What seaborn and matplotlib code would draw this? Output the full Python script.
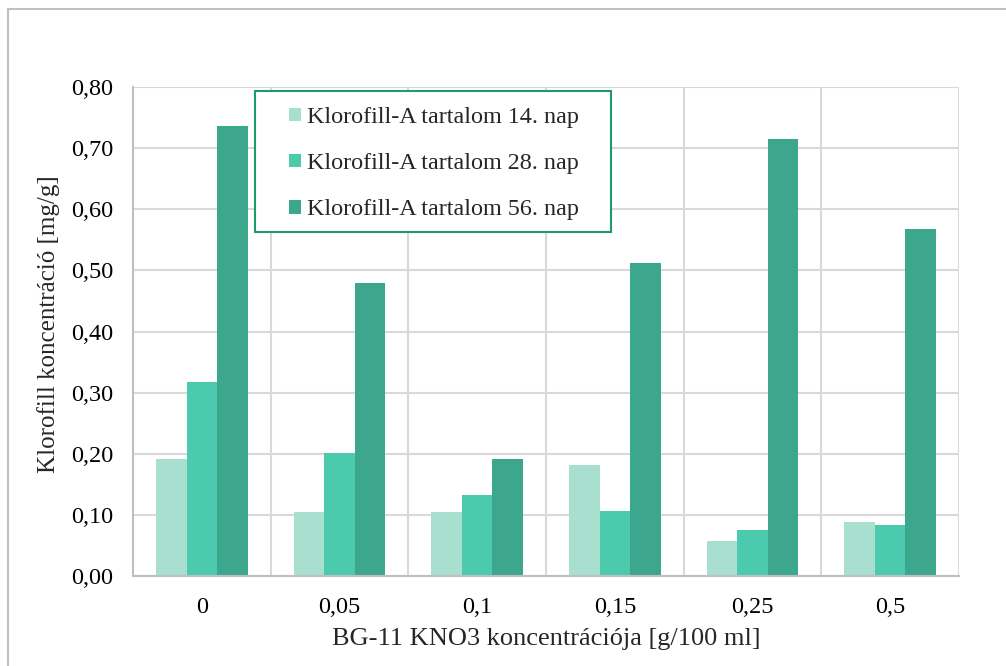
import matplotlib
matplotlib.use("Agg")
import matplotlib.pyplot as plt
import matplotlib.ticker as mticker
from matplotlib.lines import Line2D
from matplotlib.patches import Rectangle
import seaborn as sns
import pandas as pd

# KNO3 concentrations in BG-11 medium [g/100 ml]
concentrations = ["0", "0,05", "0,1", "0,15", "0,25", "0,5"]
series_names = [
    "Klorofill-A tartalom 14. nap",
    "Klorofill-A tartalom 28. nap",
    "Klorofill-A tartalom 56. nap",
]
day14 = [0.191, 0.105, 0.105, 0.181, 0.058, 0.088]
day28 = [0.317, 0.202, 0.132, 0.106, 0.075, 0.084]
day56 = [0.737, 0.479, 0.191, 0.512, 0.715, 0.567]
colors = ["#A8DFCE", "#4CCAAE", "#3DA78D"]

rows = []
for name, vals in zip(series_names, [day14, day28, day56]):
    for c, v in zip(concentrations, vals):
        rows.append({"conc": c, "series": name, "value": v})
df = pd.DataFrame(rows)

sns.set_theme(style="white")
plt.rcParams["font.family"] = ["Liberation Serif", "DejaVu Serif"]

W, H = 1006, 666
fig = plt.figure(figsize=(W / 100, H / 100), dpi=100)
ax = fig.add_axes([133 / W, 90 / H, (959 - 133) / W, (576 - 87) / H])

sns.barplot(
    data=df, x="conc", y="value", hue="series", order=concentrations,
    hue_order=series_names, palette=colors, width=0.667, gap=0,
    saturation=1, ax=ax, legend=True, edgecolor="none", linewidth=0,
)

ax.set_ylim(0, 0.8)
ax.set_xlim(-0.5, len(concentrations) - 0.5)
ax.yaxis.set_major_locator(mticker.MultipleLocator(0.1))
ax.yaxis.set_major_formatter(
    mticker.FuncFormatter(lambda v, _: f"{v:.2f}".replace(".", ","))
)
ax.tick_params(axis="both", labelsize=17.5, length=0, colors="black")
ax.tick_params(axis="y", pad=14)
ax.tick_params(axis="x", pad=15)

# Category boundaries as vertical gridlines
ax.set_xticks([i + 0.5 for i in range(-1, len(concentrations))], minor=True)
ax.tick_params(axis="x", which="minor", length=0)
ax.grid(True, axis="y", color="#D9D9D9", linewidth=1.5)
ax.grid(True, axis="x", which="minor", color="#D9D9D9", linewidth=1.5)
ax.grid(False, axis="x", which="major")
ax.set_axisbelow(True)
for side in ["top", "right"]:
    ax.spines[side].set_visible(False)
for side in ["left", "bottom"]:
    ax.spines[side].set_color("#BFBFBF")
    ax.spines[side].set_linewidth(1.5)

ax.set_xlabel("BG-11 KNO3 koncentrációja [g/100 ml]", fontsize=19, labelpad=7)
ax.set_ylabel("Klorofill koncentráció [mg/g]", fontsize=18)
ax.yaxis.set_label_coords(-0.088, 0.515)

# Legend entries, with a separate boxed frame behind them
leg = ax.legend(
    loc="upper left", bbox_to_anchor=(289 / W, 1 - 107 / H),
    bbox_transform=fig.transFigure, fontsize=17.4, frameon=False,
    handlelength=0.5, handleheight=0.5, handletextpad=0.25,
    labelspacing=1.04, borderpad=0, borderaxespad=0,
)
leg.set_zorder(6)
box = Rectangle((255 / W, 1 - 232 / H), (611 - 255) / W, (232 - 91) / H,
                transform=fig.transFigure, facecolor="white",
                edgecolor="#1F9A6C", linewidth=1.5, zorder=5, clip_on=False)
ax.add_patch(box)

# Outer chart border (left and top edges visible)
fig.add_artist(Line2D([8 / W, 8 / W], [0, 1 - 9 / H], color="#BFBFBF", lw=1.5,
                      transform=fig.transFigure))
fig.add_artist(Line2D([8 / W, 1], [1 - 9 / H, 1 - 9 / H], color="#BFBFBF", lw=1.5,
                      transform=fig.transFigure))

fig.savefig("out.png", dpi=100)
